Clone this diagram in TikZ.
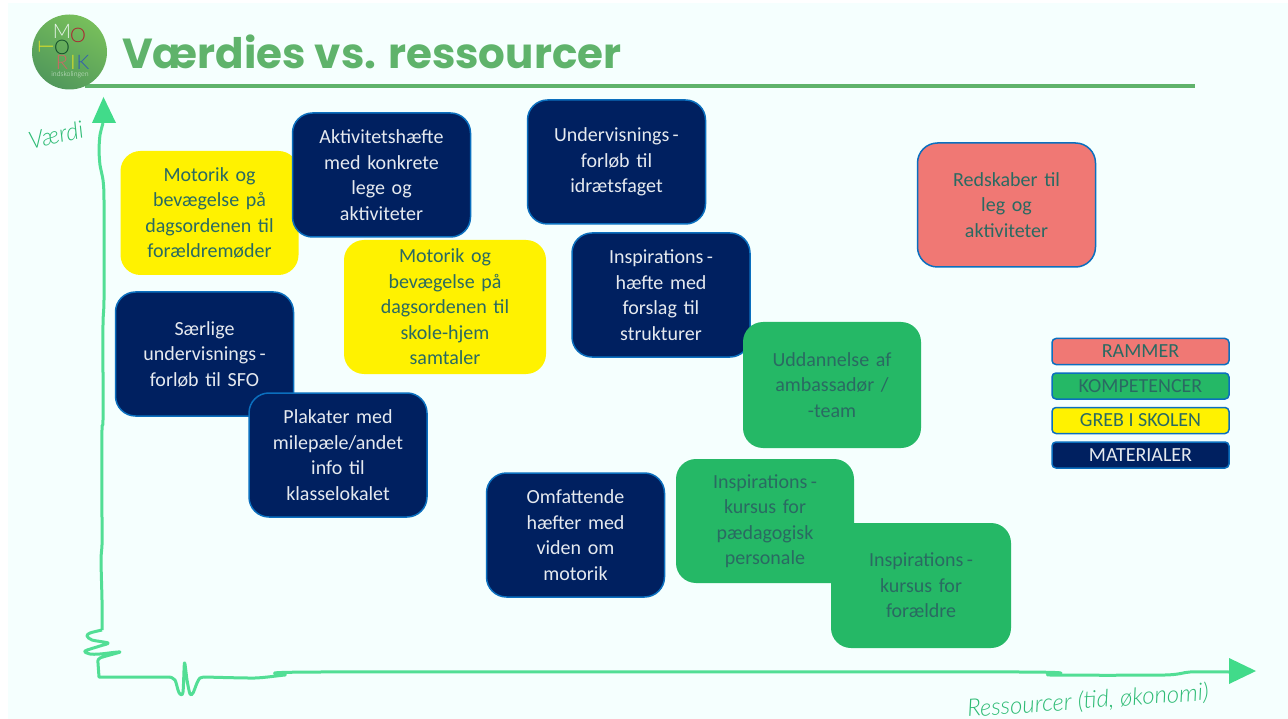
\documentclass[tikz,border=0pt]{standalone}
\usepackage{fontspec}
\setmainfont{Carlito}
\newfontfamily\titlefont{Poppins}[UprightFont=* Bold]
\newfontfamily\handfont{Lato}[UprightFont=* Light Italic]
\newfontfamily\logofont{Lato}[UprightFont=* Light]
\usepackage[dvipsnames]{xcolor}
\definecolor{myPaper}{HTML}{F5FFFE}
\definecolor{myNavy}{HTML}{002060}
\definecolor{myEdge}{HTML}{0B6FBE}
\definecolor{myGreen}{HTML}{25B866}
\definecolor{myRed}{HTML}{F07874}
\definecolor{myInk}{HTML}{2A6A62}
\definecolor{myTitle}{HTML}{5FB36B}
\definecolor{myAxis}{HTML}{41DB8A}
\definecolor{myHand}{HTML}{2DBB74}
\usepackage{tikz}
\usetikzlibrary{
  positioning,
  calc
}
\tikzset{
  boxBase/.style={rounded corners=20pt, minimum width=178pt, minimum height=124pt, align=center, inner sep=0pt,
    text width=172pt, font=\fontsize{20}{25.5}\selectfont},
  matBox/.style={boxBase, fill=myNavy, draw=myEdge, line width=1.5pt, text=white!90!myNavy},
  kompBox/.style={boxBase, fill=myGreen, text=myInk},
  grebBox/.style={boxBase, fill=yellow, text=myInk},
  rammeBox/.style={boxBase, fill=myRed, draw=myEdge, line width=1.5pt, text=myInk},
  legendBox/.style={rounded corners=4pt, draw=myEdge, line width=1.5pt, minimum width=177pt, minimum height=26pt,
    inner sep=0pt, font=\fontsize{20}{22}\selectfont},
  logoLetter/.style={font=\logofont\fontsize{20}{20}\selectfont, inner sep=0pt},
  handText/.style={font=\handfont\fontsize{24}{24}\selectfont, text=myHand, inner sep=0pt},
  axisLine/.style={draw=myAxis, line width=3pt, line join=round, opacity=0.9}
}
\begin{document}
\begin{tikzpicture}[x=1pt,y=-1pt]
  \useasboundingbox (0,0) rectangle (1288,719);
  \fill[myPaper] (8,3) rectangle (1288,719);

  % title with logo
  \draw[myTitle, line width=3.5pt] (85,86) -- (1195,86);
  \shade[left color=myTitle!85!yellow, right color=myTitle!85!black, shading angle=-30] (69.5,52) circle (37.5);
  \node[logoLetter, text=white!85!myTitle] (logoM) at (62,31) {M};
  \node[logoLetter, text=Maroon] (logoOa) at (78,35) {O};
  \node[logoLetter, text=yellow!80!myTitle, rotate=90] (logoT) at (46,47) {T};
  \node[logoLetter, text=myGreen!40!black] (logoOb) at (62,47) {O};
  \node[logoLetter, text=Maroon!60!white] (logoR) at (62,62) {R};
  \node[logoLetter, text=yellow!80!myTitle] (logoI) at (73,62) {I};
  \node[logoLetter, text=blue!50!myTitle] (logoK) at (83,62) {K};
  \node[font=\logofont\fontsize{7}{7}\selectfont, text=white!80!myTitle, inner sep=0pt] (logoSub) at (70,74.5) {indskolingen};
  \node[anchor=west, inner sep=0pt, text=myTitle, font=\titlefont\fontsize{42}{42}\selectfont] (title) at (122,52) {Værdies vs. ressourcer};

  % axes
  \draw[axisLine] plot[smooth, tension=0.4] coordinates {(103,123) (100,135) (99,150) (100,165) (103,180) (104,200)
    (104,300) (103,325) (103,420) (102,430) (102,520) (102,545) (101,560) (102,600) (102,630)};
  \draw[axisLine] plot[smooth, tension=0.5] coordinates {(102,630) (90,633) (87,636) (92,640) (108,643) (100,646)
    (85,651) (90,654) (100,654) (120,652) (100,658) (98,663)};
  \draw[axisLine] (98,663) -- (99,677) -- (170,677);
  \draw[axisLine] plot[smooth, tension=0.5] coordinates {(170,677) (175,680) (178,690) (180,694) (183,692) (184.5,663)
    (187,680) (190,694) (193,693) (197,683) (200,678) (205,677)};
  \draw[axisLine] plot[smooth, tension=0.4] coordinates {(205,677) (255,678) (285,675) (320,672) (1020,672)
    (1050,675) (1165,675) (1190,672) (1229,672)};
  \fill[myAxis] (92,123) -- (103.5,97) -- (116,123) -- cycle;
  \fill[myAxis] (1229,658) -- (1256,671) -- (1229,684) -- cycle;
  \node[handText, rotate=13] (vaerdi) at (56,135) {Værdi};
  \node[handText, rotate=4] (ressourcer) at (1088,701) {Ressourcer (tid, økonomi)};

  % boxes, back to front
  \node[grebBox] (motorikForaeldre) at (209.5,213) {Motorik og\\bevægelse på\\dagsordenen til\\forældremøder};
  \node[matBox] (aktivitet) at (381.5,175) {Aktivitetshæfte\\med konkrete\\lege og\\aktiviteter};
  \node[matBox] (undervisning) at (616.5,162) {Undervisnings\,-\\forløb til\\idrætsfaget};
  \node[rammeBox] (redskaber) at (1006.5,205) {Redskaber til\\leg og\\aktiviteter};
  \node[grebBox, minimum width=202pt, minimum height=134pt] (motorikSkole) at (445,307) {Motorik og\\bevægelse på\\dagsordenen til\\skole-hjem\\samtaler};
  \node[matBox] (inspirationHaefte) at (661,295) {Inspirations\,-\\hæfte med\\forslag til\\strukturer};
  \node[matBox] (saerlige) at (204.5,354) {Særlige\\undervisnings\,-\\forløb til SFO};
  \node[matBox] (plakater) at (338,455) {Plakater med\\milepæle/andet\\info til\\klasselokalet};
  \node[kompBox, minimum height=126pt] (uddannelse) at (832,385) {Uddannelse af\\ambassadør /\\-team};
  \node[matBox] (omfattende) at (575.5,535) {Omfattende\\hæfter med\\viden om\\motorik};
  \node[kompBox] (kursusPersonale) at (765,521) {Inspirations\,-\\kursus for\\pædagogisk\\personale};
  \node[kompBox, minimum width=180pt, minimum height=125pt] (kursusForaeldre) at (921,585.5) {Inspirations\,-\\kursus for\\forældre};

  % legend
  \node[legendBox, fill=myRed, text=myInk] (legendRammer) at (1140.5,351.5) {RAMMER};
  \node[legendBox, fill=myGreen, text=myInk, below=7pt of legendRammer] (legendKomp) {KOMPETENCER};
  \node[legendBox, fill=yellow, text=myInk, below=7pt of legendKomp] (legendGreb) {GREB I SKOLEN};
  \node[legendBox, fill=myNavy, text=white!90!myNavy, below=7pt of legendGreb] (legendMat) {MATERIALER};
\end{tikzpicture}
\end{document}
